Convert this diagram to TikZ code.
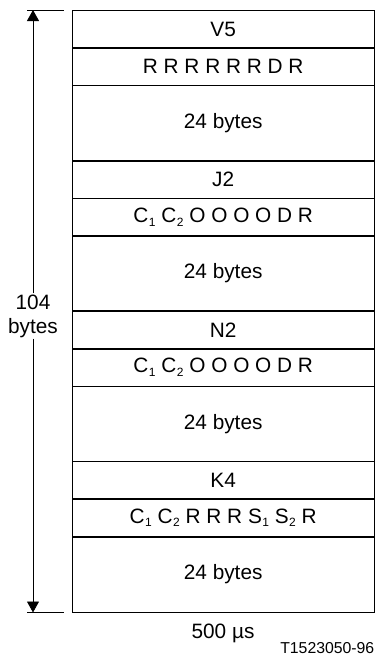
\documentclass[tikz,border=0pt]{standalone}
\usepackage{fontspec}
\setmainfont{Liberation Sans}
\usetikzlibrary{arrows.meta}
\newcommand{\lowsub}[1]{\kern0.5pt\raisebox{-3.5pt}{\fontsize{12}{12}\selectfont #1}}
\begin{document}
\begin{tikzpicture}[x=1pt,y=-1pt,
  every node/.style={font=\fontsize{20.8}{24}\selectfont},
  row/.style={minimum width=302pt,minimum height=37.6pt,inner sep=0pt,anchor=north west},
  big/.style={row,minimum height=75.2pt},
  divider/.style={line width=1.6pt},
  outer/.style={line width=0.9pt},
  dim/.style={line width=0.8pt},
  tip/.style={-{Triangle[width=12pt,length=11pt]}}]
\useasboundingbox (0,0) rectangle (375,657);
\node[row] (v5) at (72,10) {V5};
\node[row] (r1) at (72,47.6) {R R R R R R D R};
\node[big] (b1) at (72,85.2) {24 bytes};
\node[row] (j2) at (72,160.4) {J2};
\node[row] (r2) at (72,198) {C\lowsub{1} C\lowsub{2} O O O O D R};
\node[big] (b2) at (72,235.6) {24 bytes};
\node[row] (n2) at (72,310.8) {N2};
\node[row] (r3) at (72,348.4) {C\lowsub{1} C\lowsub{2} O O O O D R};
\node[big] (b3) at (72,386) {24 bytes};
\node[row] (k4) at (72,461.2) {K4};
\node[row] (r4) at (72,498.8) {C\lowsub{1} C\lowsub{2} R R R S\lowsub{1} S\lowsub{2} R};
\node[big] (b4) at (72,536.4) {24 bytes};
\foreach \n in {v5,r1,b1,j2,r2,b2,n2,r3,b3,k4,r4}
  \draw[divider] (\n.south west) -- (\n.south east);
\draw[outer] (v5.north west) rectangle (b4.south east);
% dimension
\coordinate (tl) at (27,10);
\coordinate (tr) at (64,10);
\coordinate (bl) at (27,612.5);
\coordinate (br) at (64,612.5);
\coordinate (at) at (33,10);
\coordinate (ab) at (33,612.5);
\draw[dim] (tl) -- (tr);
\draw[dim] (bl) -- (br);
\node[align=center,fill=white,inner sep=1pt] (lab) at (33,316) {104\\bytes};
\draw[dim,tip] (lab.north) -- (at);
\draw[dim,tip] (lab.south) -- (ab);
\node (us) at (223,633) {500 µs};
\node[anchor=east,inner sep=0pt,font=\fontsize{15.8}{18}\selectfont] (ref) at (374.5,648) {T1523050-96};
\end{tikzpicture}
\end{document}
